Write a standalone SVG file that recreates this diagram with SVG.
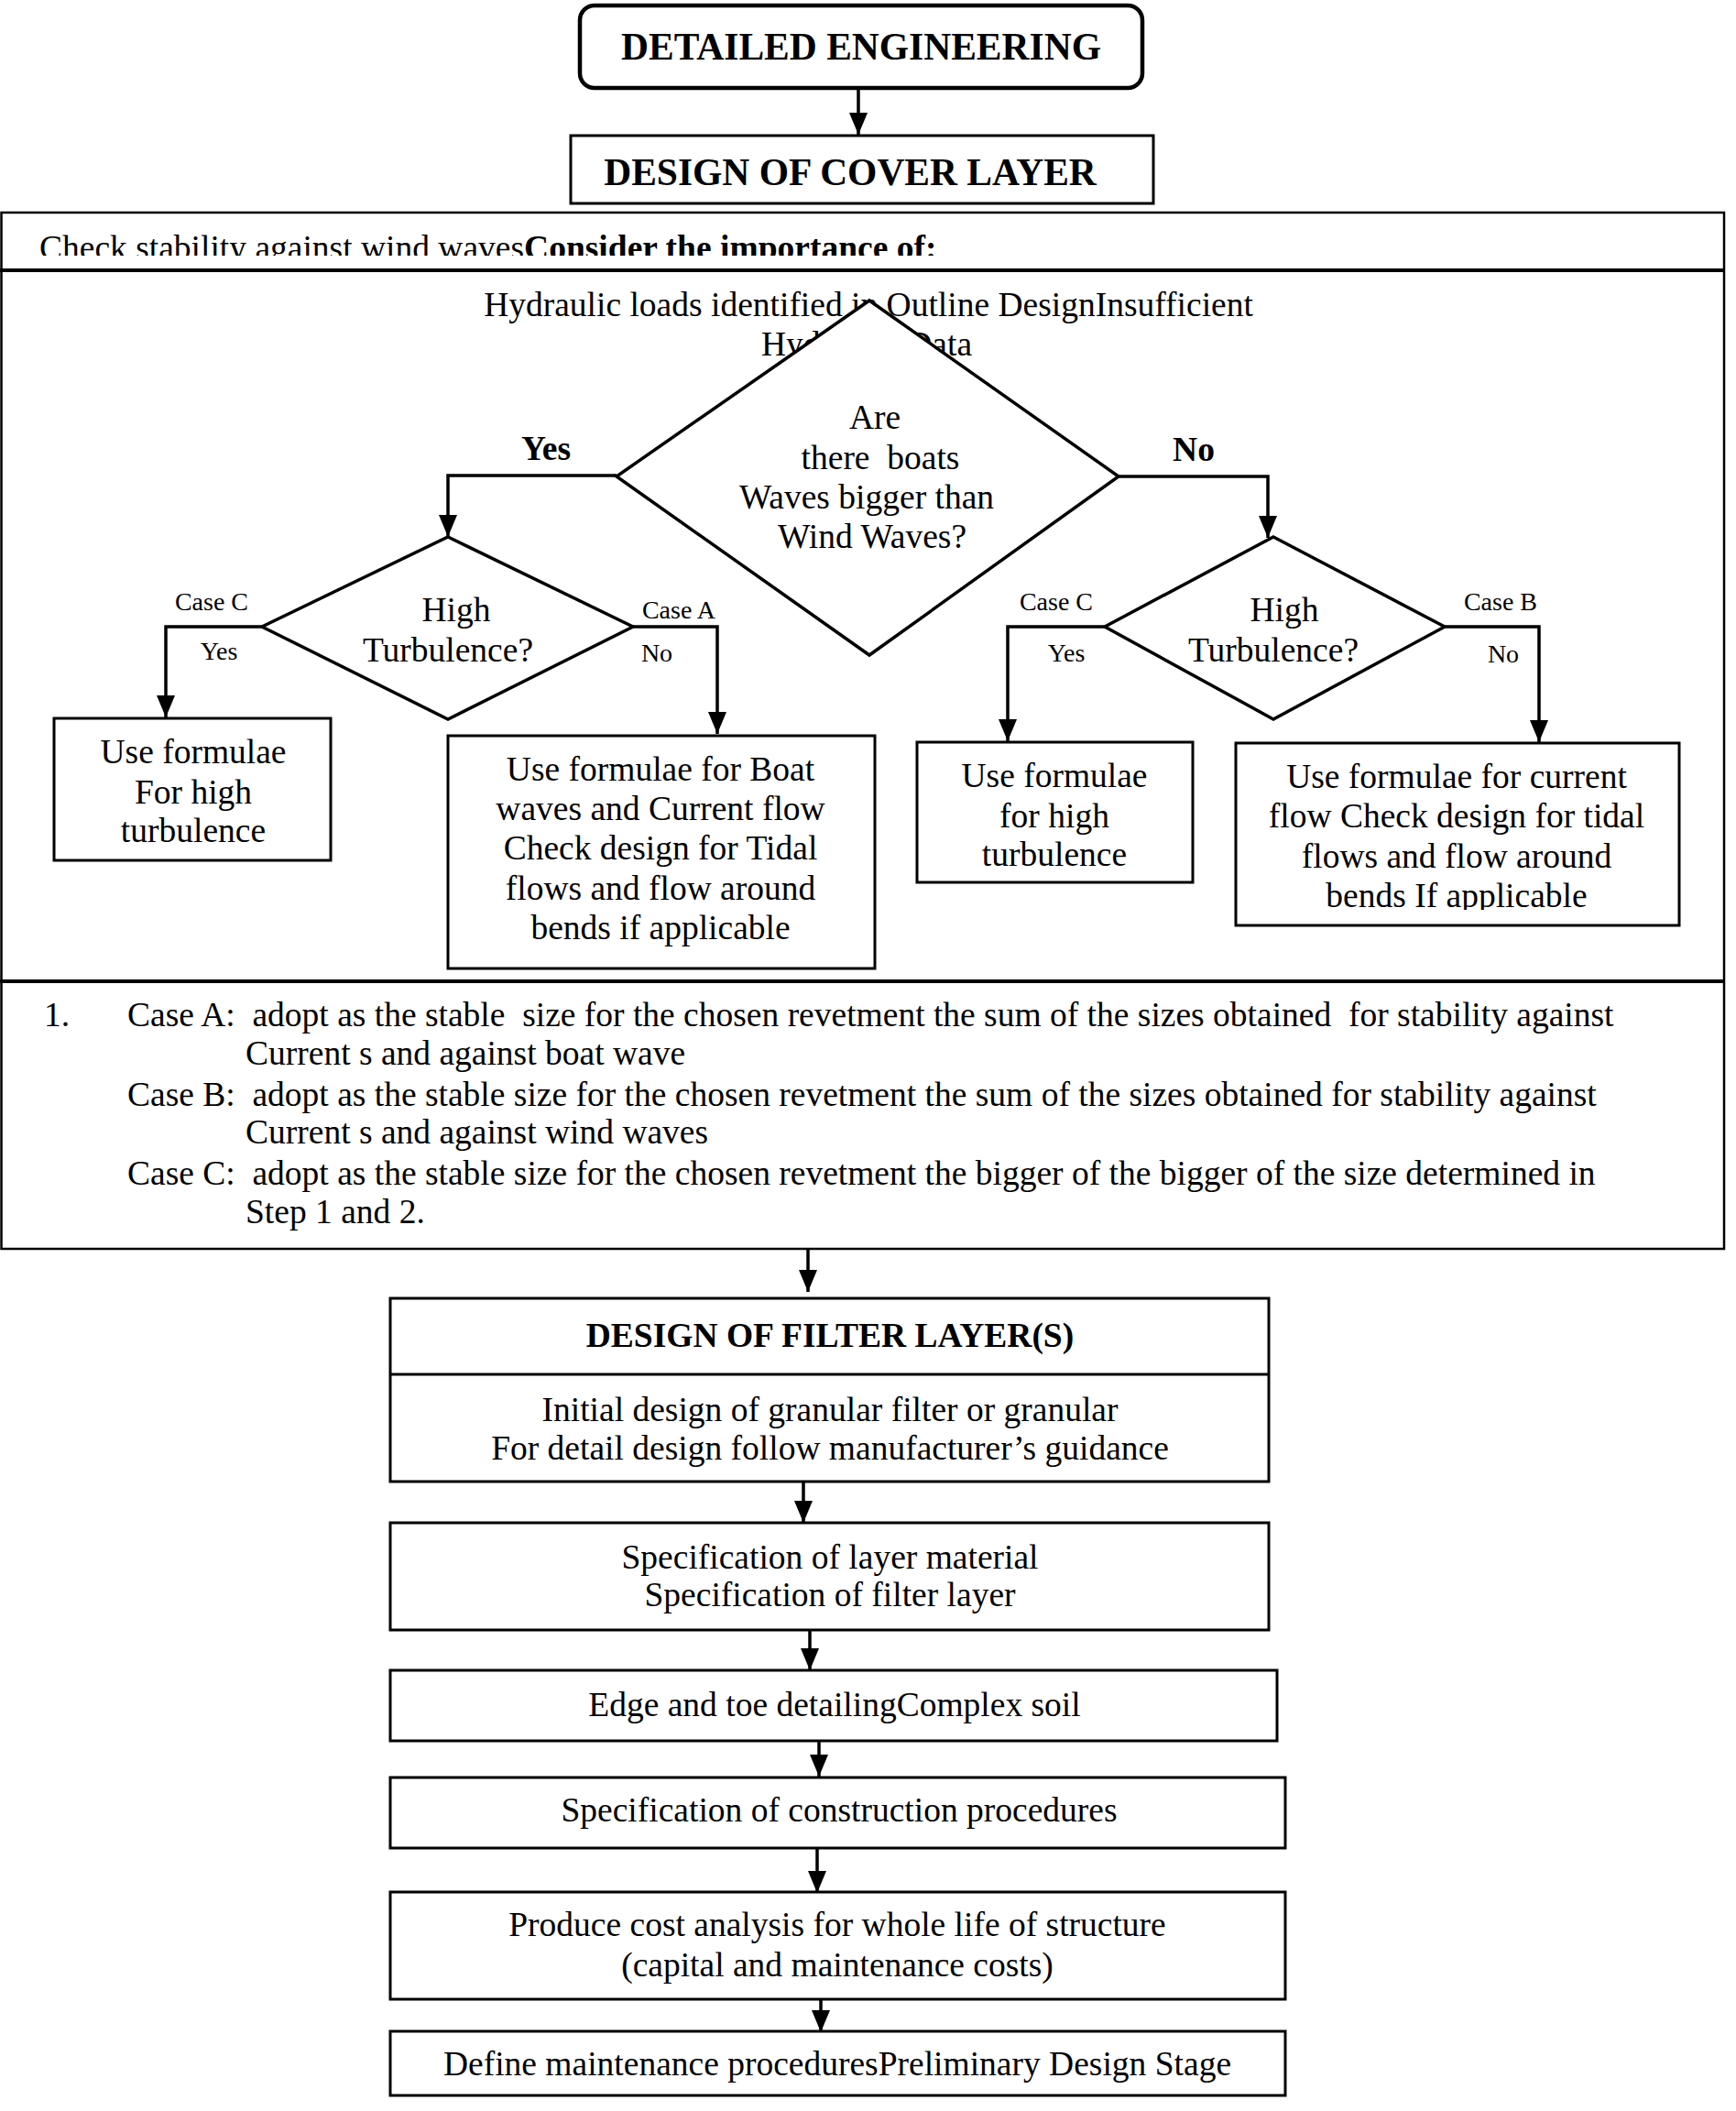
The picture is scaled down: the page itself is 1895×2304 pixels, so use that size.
<svg xmlns="http://www.w3.org/2000/svg" width="1895" height="2304" viewBox="0 0 1895 2304">
<style>
text{font-family:"Liberation Serif","Times New Roman",serif;fill:#000}
.b{font-weight:bold}
.t{font-size:37.5px}
.h{font-size:41.5px;font-weight:bold}
.s{font-size:28px}
.m{text-anchor:middle}
.box{fill:#fff;stroke:#000;stroke-width:3}
.dia{fill:#fff;stroke:#000;stroke-width:3.5}
.con{fill:none;stroke:#000;stroke-width:3.5;marker-end:url(#ah)}
.ln{fill:none;stroke:#000;stroke-width:3.5}
</style>
<defs>
<marker id="ah" markerWidth="24" markerHeight="20" refX="24" refY="10" orient="auto" markerUnits="userSpaceOnUse"><path d="M0,0 L24,10 L0,20 z" fill="#000"/></marker>
<clipPath id="c1"><rect x="0" y="232" width="1882" height="47"/></clipPath>
<clipPath id="c2"><rect x="1349" y="811" width="484" height="182"/></clipPath>
</defs>
<rect width="1895" height="2304" fill="#fff"/>

<g id="frame">
<rect x="1.5" y="232" width="1880.5" height="1131" fill="none" stroke="#000" stroke-width="2.5"/>
<line x1="0" y1="295" x2="1882" y2="295" stroke="#000" stroke-width="4"/>
<line x1="0" y1="1071" x2="1882" y2="1071" stroke="#000" stroke-width="4"/>
</g>

<g id="check-stability" clip-path="url(#c1)">
<text class="t" x="43" y="283">Check stability against wind waves<tspan class="b">Consider the importance of:</tspan></text>
</g>

<g id="hydraulic-loads">
<text class="t m" x="948" y="345">Hydraulic loads identified in Outline DesignInsufficient</text>
<text class="t m" x="946" y="388">Hydraulic Data</text>
</g>

<g id="connectors">
<line x1="937" y1="97" x2="937" y2="147" class="con"/>
<polyline points="673,519 489,519 489,586" class="con"/>
<polyline points="1221,520 1384,520 1384,587" class="con"/>
<polyline points="286,684 181,684 181,783" class="con"/>
<polyline points="691,684 783,684 783,801" class="con"/>
<polyline points="1206,684 1100,684 1100,809" class="con"/>
<polyline points="1577,684 1680,684 1680,810" class="con"/>
<line x1="882" y1="1363" x2="882" y2="1410" class="con"/>
<line x1="877" y1="1617" x2="877" y2="1662" class="con"/>
<line x1="884" y1="1779" x2="884" y2="1823" class="con"/>
<line x1="894" y1="1900" x2="894" y2="1939" class="con"/>
<line x1="892" y1="2017" x2="892" y2="2066" class="con"/>
<line x1="896" y1="2182" x2="896" y2="2218" class="con"/>
</g>

<g id="detailed-engineering">
<rect x="633" y="6" width="614" height="90" rx="16" ry="16" fill="#fff" stroke="#000" stroke-width="4.5"/>
<text class="h m" x="940" y="65">DETAILED ENGINEERING</text>
</g>

<g id="design-cover-layer">
<rect x="623" y="148" width="636" height="74" class="box"/>
<text class="h m" x="928" y="202">DESIGN OF COVER LAYER</text>
</g>

<g id="decision-boat-waves">
<polygon points="949,328 1221,520 949,715 673,520" class="dia"/>
<text class="t m" x="955" y="468">Are</text>
<text class="t m" x="961" y="512" xml:space="preserve">there  boats</text>
<text class="t m" x="946" y="555">Waves bigger than</text>
<text class="t m" x="952" y="598">Wind Waves?</text>
</g>

<g id="label-yes-main"><text class="t b m" x="596" y="502">Yes</text></g>
<g id="label-no-main"><text class="t b m" x="1303" y="503">No</text></g>

<g id="decision-turbulence-left">
<polygon points="489,586 691,684 489,785 286,684" class="dia"/>
<text class="t m" x="498" y="678">High</text>
<text class="t m" x="489" y="722">Turbulence?</text>
</g>

<g id="decision-turbulence-right">
<polygon points="1390,586 1577,684 1390,785 1206,684" class="dia"/>
<text class="t m" x="1402" y="678">High</text>
<text class="t m" x="1390" y="722">Turbulence?</text>
</g>

<g id="branch-labels">
<text class="s m" x="231" y="666">Case C</text>
<text class="s m" x="239" y="720">Yes</text>
<text class="s m" x="741" y="675">Case A</text>
<text class="s m" x="717" y="722">No</text>
<text class="s m" x="1153" y="666">Case C</text>
<text class="s m" x="1164" y="722">Yes</text>
<text class="s m" x="1638" y="666">Case B</text>
<text class="s m" x="1641" y="723">No</text>
</g>

<g id="box-high-turbulence-left">
<rect x="59" y="784" width="302" height="155" class="box"/>
<text class="t m" x="211" y="833">Use formulae</text>
<text class="t m" x="211" y="877">For high</text>
<text class="t m" x="211" y="919">turbulence</text>
</g>

<g id="box-boat-waves">
<rect x="489" y="803" width="466" height="254" class="box"/>
<text class="t m" x="721" y="852">Use formulae for Boat</text>
<text class="t m" x="721" y="895">waves and Current flow</text>
<text class="t m" x="721" y="938">Check design for Tidal</text>
<text class="t m" x="721" y="982">flows and flow around</text>
<text class="t m" x="721" y="1025">bends if applicable</text>
</g>

<g id="box-high-turbulence-right">
<rect x="1001" y="810" width="301" height="153" class="box"/>
<text class="t m" x="1151" y="859">Use formulae</text>
<text class="t m" x="1151" y="903">for high</text>
<text class="t m" x="1151" y="945">turbulence</text>
</g>

<g id="box-current-flow">
<rect x="1349" y="811" width="484" height="199" class="box"/>
<g clip-path="url(#c2)">
<text class="t m" x="1590" y="860">Use formulae for current</text>
<text class="t m" x="1590" y="903">flow Check design for tidal</text>
<text class="t m" x="1590" y="947">flows and flow around</text>
<text class="t m" x="1590" y="990">bends If applicable</text>
</g>
</g>

<g id="case-notes">
<text class="t" x="48" y="1120">1.</text>
<text class="t" x="139" y="1120" xml:space="preserve">Case A:  adopt as the stable  size for the chosen revetment the sum of the sizes obtained  for stability against</text>
<text class="t" x="268" y="1162">Current s and against boat wave</text>
<text class="t" x="139" y="1207" xml:space="preserve">Case B:  adopt as the stable size for the chosen revetment the sum of the sizes obtained for stability against</text>
<text class="t" x="268" y="1248">Current s and against wind waves</text>
<text class="t" x="139" y="1293" xml:space="preserve">Case C:  adopt as the stable size for the chosen revetment the bigger of the bigger of the size determined in</text>
<text class="t" x="268" y="1335">Step 1 and 2.</text>
</g>

<g id="design-filter-layer">
<rect x="426" y="1417" width="959" height="200" class="box"/>
<line x1="426" y1="1500" x2="1385" y2="1500" stroke="#000" stroke-width="3"/>
<text class="t b m" x="906" y="1470">DESIGN OF FILTER LAYER(S)</text>
<text class="t m" x="906" y="1551">Initial design of granular filter or granular</text>
<text class="t m" x="906" y="1593">For detail design follow manufacturer’s guidance</text>
</g>

<g id="specification-layer">
<rect x="426" y="1662" width="959" height="117" class="box"/>
<text class="t m" x="906" y="1712">Specification of layer material</text>
<text class="t m" x="906" y="1753">Specification of filter layer</text>
</g>

<g id="edge-toe">
<rect x="426" y="1823" width="968" height="77" class="box"/>
<text class="t m" x="911" y="1873">Edge and toe detailingComplex soil</text>
</g>

<g id="construction-procedures">
<rect x="426" y="1940" width="977" height="77" class="box"/>
<text class="t m" x="916" y="1988">Specification of construction procedures</text>
</g>

<g id="cost-analysis">
<rect x="426" y="2065" width="977" height="117" class="box"/>
<text class="t m" x="914" y="2113">Produce cost analysis for whole life of structure</text>
<text class="t m" x="914" y="2157">(capital and maintenance costs)</text>
</g>

<g id="maintenance-procedures">
<rect x="426" y="2217" width="977" height="70" class="box"/>
<text class="t m" x="914" y="2265">Define maintenance proceduresPreliminary Design Stage</text>
</g>
</svg>
